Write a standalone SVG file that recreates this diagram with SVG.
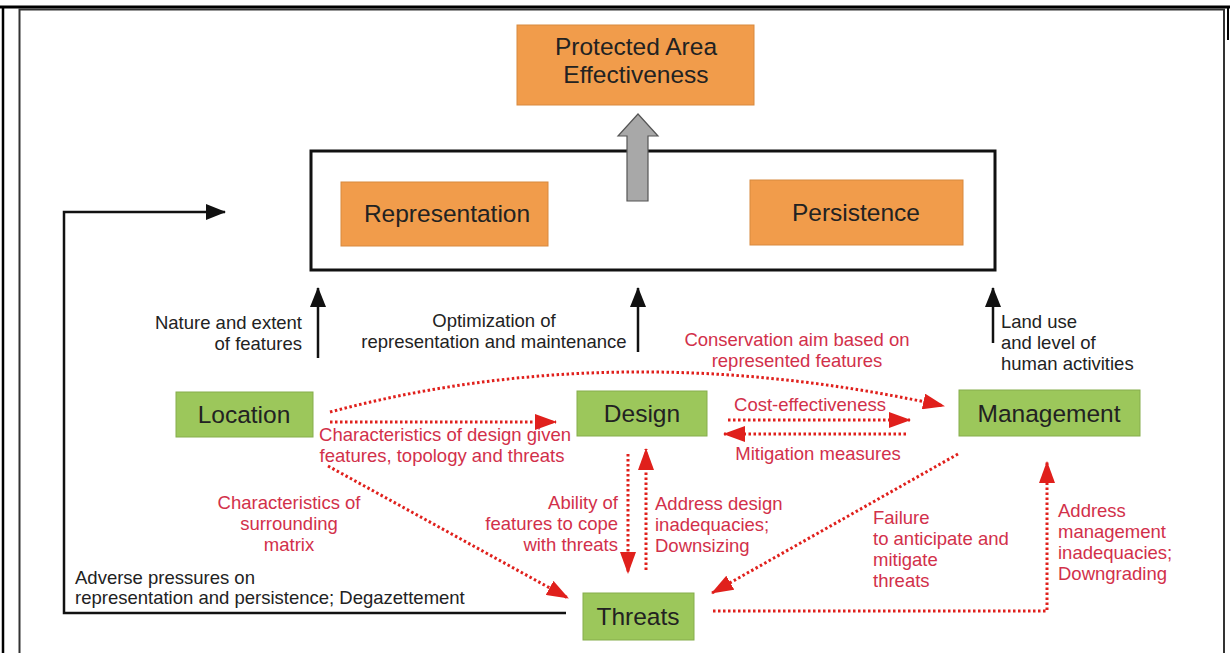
<svg xmlns="http://www.w3.org/2000/svg" width="1230" height="653" viewBox="0 0 1230 653">
<defs>
<marker id="ah-black" markerUnits="userSpaceOnUse" viewBox="0 0 20 16" refX="19" refY="8" markerWidth="20" markerHeight="16" orient="auto">
<path d="M0,0 L20,8 L0,16 Z" fill="#111"/>
</marker>
<marker id="ah-red" markerUnits="userSpaceOnUse" viewBox="0 0 22 16" refX="21" refY="8" markerWidth="22" markerHeight="16" orient="auto">
<path d="M0,0 L22,8 L0,16 Z" fill="#e0201c"/>
</marker>
<style>
.orange{fill:#f19c4b;stroke:#d8893e;stroke-width:1}
.green{fill:#9cc75b;stroke:#86ad4c;stroke-width:1}
.boxtxt{font-family:"Liberation Sans",Arial,sans-serif;font-size:24.5px;fill:#222;text-anchor:middle}
.blk{font-family:"Liberation Sans",Arial,sans-serif;font-size:18.5px;fill:#222}
.red{font-family:"Liberation Sans",Arial,sans-serif;font-size:18.5px;fill:#d2304a}
.bline{fill:none;stroke:#111;stroke-width:2.5}
.rline{fill:none;stroke:#e0201c;stroke-width:3;stroke-dasharray:2.5 2.5}
</style>
</defs>
<rect width="1230" height="653" fill="#fff"/>
<g id="frame" fill="none">
<line x1="0" y1="7" x2="1230" y2="7" stroke="#000" stroke-width="3"/>
<line x1="3" y1="7" x2="3" y2="653" stroke="#000" stroke-width="2.5"/>
<line x1="1228" y1="7" x2="1228" y2="40" stroke="#000" stroke-width="2"/>
<path d="M19.5,653 V9.5 H1224 V653" stroke="#333" stroke-width="2"/>
</g>
<g id="pae">
<rect class="orange" x="517" y="25" width="237" height="80"/>
<text class="boxtxt" x="636" y="55">Protected Area</text>
<text class="boxtxt" x="636" y="83">Effectiveness</text>
</g>
<g id="container">
<rect x="311" y="151" width="684" height="119" fill="none" stroke="#111" stroke-width="3"/>
</g>
<g id="representation">
<rect class="orange" x="341" y="182" width="207" height="64"/>
<text class="boxtxt" x="447" y="222">Representation</text>
</g>
<g id="persistence">
<rect class="orange" x="750" y="180" width="213" height="65"/>
<text class="boxtxt" x="856" y="221">Persistence</text>
</g>
<g id="gray-arrow">
<path d="M627,201 V136 H618 L638,114 L658,136 H648 V201 Z" fill="#a8a8a8" stroke="#555" stroke-width="1.2"/>
</g>
<g id="location">
<rect class="green" x="176" y="392" width="137" height="45"/>
<text class="boxtxt" x="244" y="423">Location</text>
</g>
<g id="design">
<rect class="green" x="577" y="391" width="130" height="45"/>
<text class="boxtxt" x="642" y="422">Design</text>
</g>
<g id="management">
<rect class="green" x="959" y="390" width="181" height="46"/>
<text class="boxtxt" x="1049" y="422">Management</text>
</g>
<g id="threats">
<rect class="green" x="583" y="593" width="111" height="47"/>
<text class="boxtxt" x="638" y="625">Threats</text>
</g>
<g id="connectors">
<line class="bline" x1="318" y1="358" x2="318" y2="288" marker-end="url(#ah-black)"/>
<line class="bline" x1="638" y1="352" x2="638" y2="288" marker-end="url(#ah-black)"/>
<line class="bline" x1="993" y1="343" x2="993" y2="288" marker-end="url(#ah-black)"/>
<path class="bline" d="M566,613 H64 V212 H225" marker-end="url(#ah-black)"/>
<path class="rline" d="M330,412 Q620,335 944,406" marker-end="url(#ah-red)"/>
<path class="rline" d="M330,422 H556" marker-end="url(#ah-red)"/>
<path class="rline" d="M328,466 L568,598" marker-end="url(#ah-red)"/>
<path class="rline" d="M728,420 H910" marker-end="url(#ah-red)"/>
<path class="rline" d="M906,434 H724" marker-end="url(#ah-red)"/>
<path class="rline" d="M628,454 V573" marker-end="url(#ah-red)"/>
<path class="rline" d="M646,570 V449" marker-end="url(#ah-red)"/>
<path class="rline" d="M958,454 L712,593" marker-end="url(#ah-red)"/>
<path class="rline" d="M713,611 H1047 V462" marker-end="url(#ah-red)"/>
</g>
<g id="labels">
<text class="blk" x="302" y="329" text-anchor="end">Nature and extent</text>
<text class="blk" x="302" y="350" text-anchor="end">of features</text>
<text class="blk" x="494" y="327" text-anchor="middle">Optimization of</text>
<text class="blk" x="494" y="348" text-anchor="middle">representation and maintenance</text>
<text class="blk" x="1001" y="328">Land use</text>
<text class="blk" x="1001" y="349">and level of</text>
<text class="blk" x="1001" y="370">human activities</text>
<text class="red" x="797" y="346" text-anchor="middle">Conservation aim based on</text>
<text class="red" x="797" y="367" text-anchor="middle">represented features</text>
<text class="red" x="810" y="411" text-anchor="middle">Cost-effectiveness</text>
<text class="red" x="818" y="460" text-anchor="middle">Mitigation measures</text>
<text class="red" x="445" y="441" text-anchor="middle">Characteristics of design given</text>
<text class="red" x="442" y="462" text-anchor="middle">features, topology and threats</text>
<text class="red" x="289" y="509" text-anchor="middle">Characteristics of</text>
<text class="red" x="289" y="530" text-anchor="middle">surrounding</text>
<text class="red" x="289" y="551" text-anchor="middle">matrix</text>
<text class="red" x="618" y="509" text-anchor="end">Ability of</text>
<text class="red" x="618" y="530" text-anchor="end">features to cope</text>
<text class="red" x="618" y="551" text-anchor="end">with threats</text>
<text class="red" x="655" y="510">Address design</text>
<text class="red" x="655" y="531">inadequacies;</text>
<text class="red" x="655" y="552">Downsizing</text>
<text class="red" x="873" y="524">Failure</text>
<text class="red" x="873" y="545">to anticipate and</text>
<text class="red" x="873" y="566">mitigate</text>
<text class="red" x="873" y="587">threats</text>
<text class="red" x="1058" y="517">Address</text>
<text class="red" x="1058" y="538">management</text>
<text class="red" x="1058" y="559">inadequacies;</text>
<text class="red" x="1058" y="580">Downgrading</text>
<text class="blk" x="75" y="584">Adverse pressures on</text>
<text class="blk" x="75" y="604">representation and persistence; Degazettement</text>
</g>
</svg>
